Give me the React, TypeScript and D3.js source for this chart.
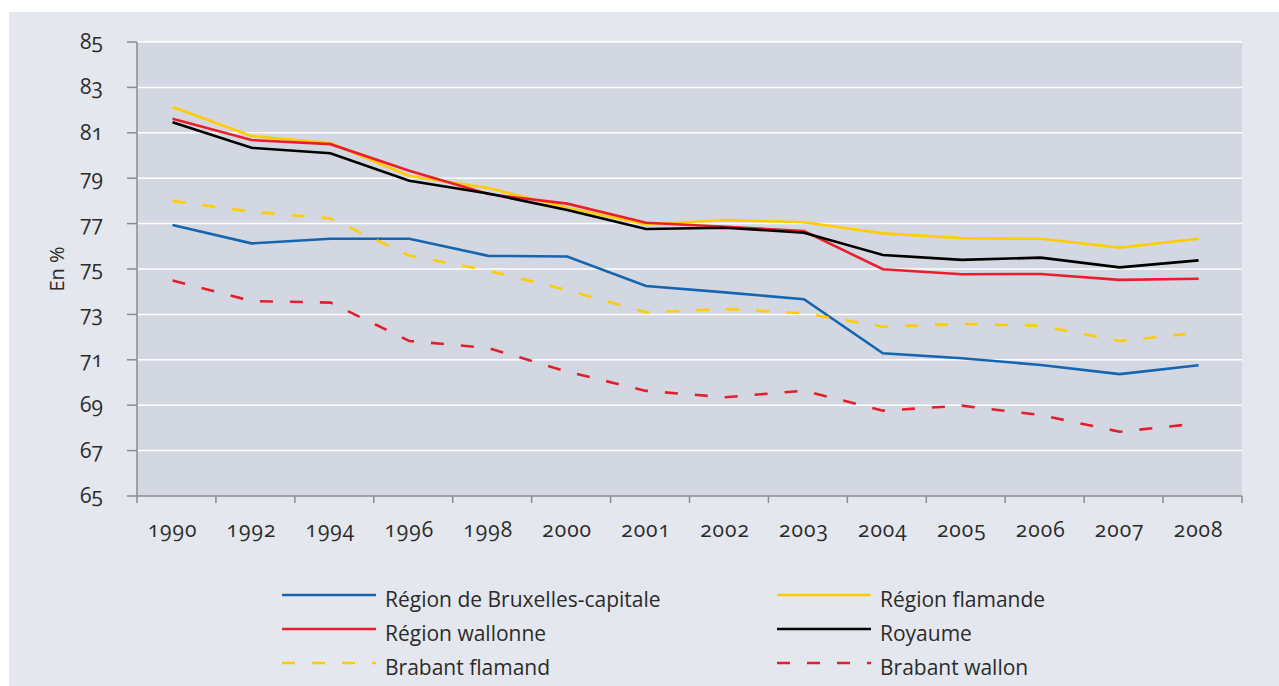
import React, { useEffect, useRef } from 'react';
import * as d3 from 'd3';

const years = ['1990', '1992', '1994', '1996', '1998', '2000', '2001', '2002', '2003', '2004', '2005', '2006', '2007', '2008'];

const bruxelles = [76.94, 76.13, 76.33, 76.33, 75.58, 75.55, 74.25, 73.97, 73.67, 71.29, 71.07, 70.77, 70.37, 70.76];
const flamande = [82.14, 80.86, 80.55, 79.1, 78.57, 77.7, 76.96, 77.16, 77.06, 76.57, 76.36, 76.33, 75.94, 76.33];
const wallonne = [81.62, 80.68, 80.5, 79.33, 78.3, 77.88, 77.04, 76.86, 76.67, 74.99, 74.77, 74.78, 74.52, 74.57];
const royaume = [81.46, 80.34, 80.1, 78.89, 78.33, 77.6, 76.76, 76.82, 76.6, 75.62, 75.4, 75.5, 75.07, 75.38];
const brabantFlamand = [78.0, 77.52, 77.23, 75.59, 74.93, 74.07, 73.09, 73.24, 73.05, 72.46, 72.58, 72.5, 71.83, 72.19];
const brabantWallon = [74.49, 73.59, 73.52, 71.83, 71.52, 70.48, 69.63, 69.35, 69.64, 68.76, 68.98, 68.57, 67.83, 68.2];

const yTicks = [65, 67, 69, 71, 73, 75, 77, 79, 81, 83, 85];

const series = [
  { name: 'Région de Bruxelles-capitale', values: bruxelles, color: '#1565b0', dashed: false },
  { name: 'Région flamande', values: flamande, color: '#ffcc00', dashed: false },
  { name: 'Région wallonne', values: wallonne, color: '#ea1f2b', dashed: false },
  { name: 'Royaume', values: royaume, color: '#000000', dashed: false },
  { name: 'Brabant flamand', values: brabantFlamand, color: '#ffcc00', dashed: true },
  { name: 'Brabant wallon', values: brabantWallon, color: '#e2202c', dashed: true },
];

const W = 1279;
const H = 686;
const plot = { left: 137, right: 1242, top: 42, bottom: 496 };
const font = '"Open Sans", Lato, sans-serif';
const textColor = '#2b2b2b';

export default function App() {
  const ref = useRef<SVGSVGElement>(null);

  useEffect(() => {
    const svg = d3.select(ref.current);
    svg.selectAll('*').remove();

    svg.append('rect').attr('width', W).attr('height', H).attr('fill', '#ffffff');
    svg.append('rect').attr('x', 9).attr('y', 12).attr('width', W - 9).attr('height', H - 12).attr('fill', '#e4e7ee');

    const xBand = d3.scaleBand<string>().domain(years).range([plot.left, plot.right]);
    const xPos = (d: string) => (xBand(d) as number) + xBand.bandwidth() * 0.45;
    const y = d3.scaleLinear().domain([65, 85]).range([plot.bottom, plot.top]);

    svg.append('rect')
      .attr('x', plot.left).attr('y', plot.top)
      .attr('width', plot.right - plot.left).attr('height', plot.bottom - plot.top)
      .attr('fill', '#d3d7e1');

    // grid
    svg.append('g').selectAll('line')
      .data(yTicks.filter(t => t > 65))
      .join('line')
      .attr('x1', plot.left).attr('x2', plot.right)
      .attr('y1', d => y(d)).attr('y2', d => y(d))
      .attr('stroke', '#ffffff').attr('stroke-width', 1.5);

    // axes
    const axisColor = '#8c8c8c';
    const yAxis = svg.append('g');
    yAxis.append('line')
      .attr('x1', plot.left).attr('x2', plot.left)
      .attr('y1', plot.top).attr('y2', plot.bottom)
      .attr('stroke', axisColor).attr('stroke-width', 1.5);
    yAxis.selectAll('line.tick')
      .data(yTicks)
      .join('line')
      .attr('class', 'tick')
      .attr('x1', plot.left - 10).attr('x2', plot.left)
      .attr('y1', d => y(d)).attr('y2', d => y(d))
      .attr('stroke', axisColor).attr('stroke-width', 1.5);
    yAxis.selectAll('text')
      .data(yTicks)
      .join('text')
      .attr('x', 103)
      .attr('y', d => y(d) + 7)
      .attr('text-anchor', 'end')
      .attr('font-family', font)
      .attr('font-size', 21)
      .style('font-variant-numeric', 'oldstyle-nums')
      .attr('fill', textColor)
      .text(d => `${d}`);

    const xAxis = svg.append('g');
    xAxis.append('line')
      .attr('x1', plot.left).attr('x2', plot.right)
      .attr('y1', plot.bottom).attr('y2', plot.bottom)
      .attr('stroke', axisColor).attr('stroke-width', 1.5);
    xAxis.selectAll('line.tick')
      .data([...years.map(d => xBand(d) as number), plot.right])
      .join('line')
      .attr('class', 'tick')
      .attr('x1', d => d).attr('x2', d => d)
      .attr('y1', plot.bottom).attr('y2', plot.bottom + 7)
      .attr('stroke', axisColor).attr('stroke-width', 1.5);
    xAxis.selectAll('text')
      .data(years)
      .join('text')
      .attr('x', d => xPos(d))
      .attr('y', 537)
      .attr('text-anchor', 'middle')
      .attr('font-family', font)
      .attr('font-size', 21)
      .attr('letter-spacing', 1)
      .style('font-variant-numeric', 'oldstyle-nums')
      .attr('fill', textColor)
      .text(d => d);

    svg.append('text')
      .attr('transform', `translate(64, ${(plot.top + plot.bottom) / 2}) rotate(-90)`)
      .attr('text-anchor', 'middle')
      .attr('font-family', font)
      .attr('font-size', 20)
      .attr('fill', textColor)
      .text('En %');

    // lines
    const line = d3.line<number>()
      .x((_, i) => xPos(years[i]))
      .y(d => y(d));

    series.forEach(s => {
      svg.append('path')
        .datum(s.values)
        .attr('fill', 'none')
        .attr('stroke', s.color)
        .attr('stroke-width', 2.6)
        .attr('stroke-dasharray', s.dashed ? '13 17' : null)
        .attr('d', line);
    });

    // legend
    const legend = svg.append('g');
    const cols = [282, 777];
    const rows = [595, 629, 663];
    series.forEach((s, i) => {
      const lx = cols[i % 2];
      const ly = rows[Math.floor(i / 2)];
      legend.append('line')
        .attr('x1', lx).attr('x2', lx + 94)
        .attr('y1', ly).attr('y2', ly)
        .attr('stroke', s.color)
        .attr('stroke-width', 2.6)
        .attr('stroke-dasharray', s.dashed ? '13 17' : null);
      legend.append('text')
        .attr('x', lx + 103)
        .attr('y', ly + 12)
        .attr('font-family', font)
        .attr('font-size', 21)
        .attr('fill', textColor)
        .text(s.name);
    });
  }, []);

  return (
    <div style={{ position: 'absolute', left: 0, top: 0 }}>
      <svg ref={ref} width={W} height={H} style={{ display: 'block' }} />
    </div>
  );
}
